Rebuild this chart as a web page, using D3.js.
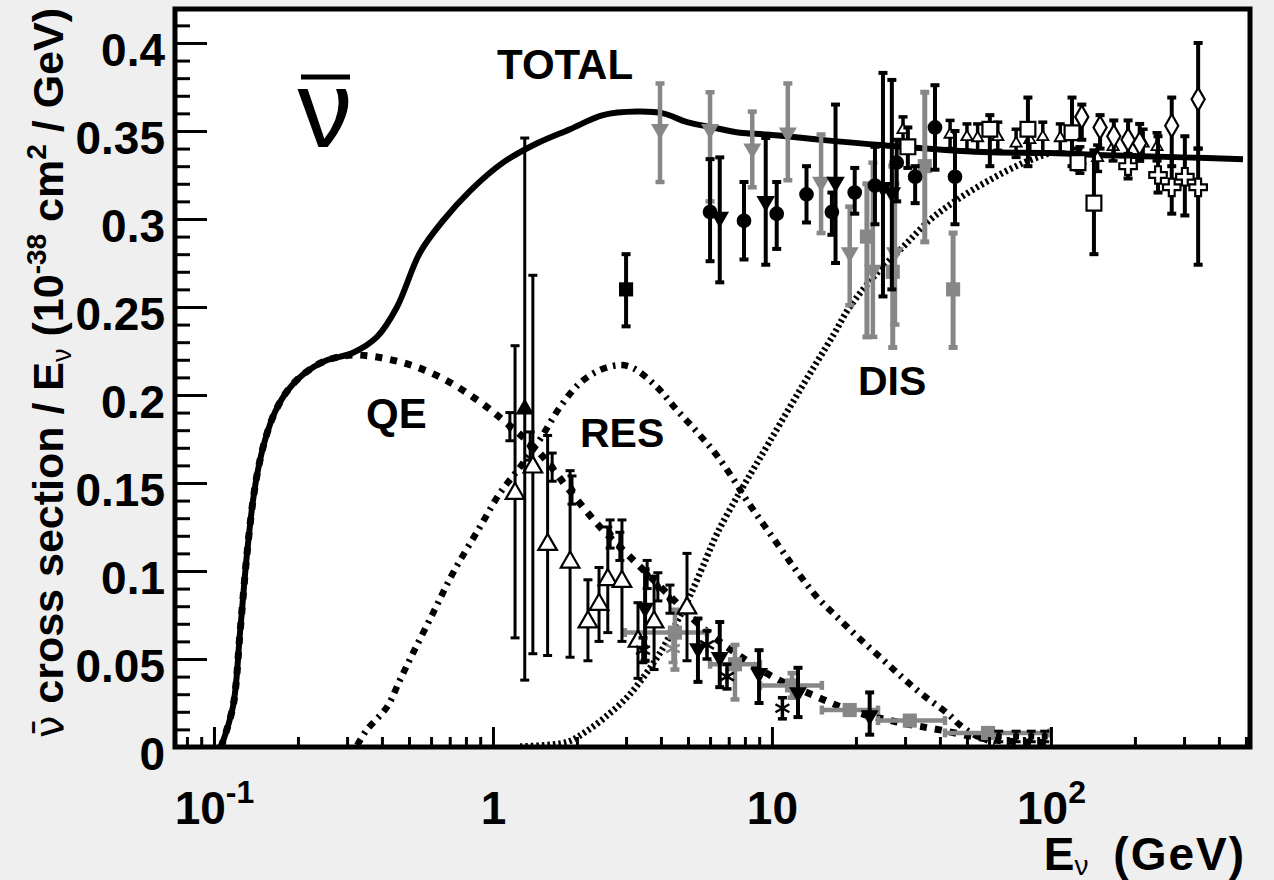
<!DOCTYPE html>
<html>
<head>
<meta charset="utf-8">
<script src="https://cdn.jsdelivr.net/npm/d3@7"></script>
<style>
  body { margin: 0; background: #efefef; }
  svg { display: block; }
</style>
</head>
<body>
<div class="canvas"></div>
<script>
// ---- curves: [E (GeV), sigma/E] ----
const totalCurve = [[0.106,0],[0.117,0.023],[0.124,0.065],[0.131,0.108],[0.138,0.140],[0.1438,0.1574],[0.1524,0.1744],[0.1655,0.1903],[0.1841,0.2028],[0.2119,0.2125],[0.250,0.2193],[0.315,0.224],[0.384,0.233],[0.453,0.250],[0.548,0.281],[0.662,0.299],[0.828,0.316],[1.086,0.332],[1.44,0.343],[1.89,0.351],[2.48,0.359],[3.28,0.361],[4.07,0.360],[4.96,0.355],[6.15,0.352],[7.68,0.349],[9.6,0.348],[14.9,0.345],[24.4,0.342],[57,0.338],[99,0.3375],[173,0.336],[297,0.335],[488,0.334]];
const qeCurve = [[0.106,0],[0.117,0.023],[0.124,0.065],[0.131,0.108],[0.138,0.140],[0.1438,0.1574],[0.1524,0.1744],[0.1655,0.1903],[0.1841,0.2028],[0.2119,0.2125],[0.250,0.2193],[0.315,0.2227],[0.464,0.2188],[0.646,0.2102],[0.877,0.1972],[1.12,0.184],[1.47,0.167],[1.84,0.1477],[2.42,0.125],[3.18,0.1063],[4.20,0.0875],[5.66,0.0676],[6.90,0.0568],[10.1,0.0398],[14.0,0.0295],[19.0,0.021],[28.1,0.0142],[40,0.0097],[62,0.004],[97,0.0025]];
const resCurve = [[0.326,0.001],[0.353,0.0097],[0.417,0.0227],[0.464,0.038],[0.517,0.0534],[0.610,0.0761],[0.719,0.0989],[0.898,0.125],[1.06,0.1443],[1.25,0.159],[1.47,0.1744],[1.74,0.1932],[2.05,0.2068],[2.42,0.2142],[2.85,0.217],[3.18,0.2153],[3.87,0.2045],[4.56,0.1915],[5.39,0.179],[6.25,0.167],[7.19,0.1534],[8.20,0.1392],[10.7,0.1131],[12.4,0.0989],[14.5,0.0852],[17.1,0.0739],[20.3,0.0625],[24.4,0.0511],[29.2,0.0398],[34.8,0.0295],[42.4,0.0193],[47.2,0.0125],[53.4,0.0068],[63,0.0023]];
const disCurve = [[1.25,0.0003],[1.84,0.0028],[2.17,0.0091],[2.63,0.0193],[3.10,0.0301],[3.57,0.0426],[4.07,0.0563],[4.56,0.0710],[5.08,0.0858],[5.66,0.1028],[6.40,0.1222],[7.68,0.1449],[9.06,0.1642],[12.6,0.2028],[16.6,0.2341],[19.0,0.250],[23.8,0.2693],[29.5,0.2841],[36.8,0.2994],[46.0,0.3108],[60.4,0.3222],[79.4,0.3318],[99,0.3375]];

// ---- measurements: [E, value, low, high] ----
const openTriUp = [[1.20,0.144,0.062,0.228],[1.39,0.159,0.053,0.268],[1.57,0.115,0.052,0.177],[1.89,0.105,0.051,0.157],[2.19,0.071,0.049,0.095],[2.40,0.081,0.060,0.102],[2.58,0.095,0.065,0.125],[2.90,0.094,0.060,0.129],[3.31,0.060,0.039,0.082],[3.78,0.071,0.044,0.097],[4.96,0.079,0.049,0.110]];
const filledTriUp = [[1.30,0.192,0.038,0.346]];
const blackCircles = [[6.0,0.304,0.276,0.334],[7.94,0.299,0.277,0.321],[10.4,0.303,0.283,0.321],[13.3,0.314,0.298,0.330],[16.4,0.304,0.291,0.315],[19.8,0.315,0.303,0.329],[23.4,0.319,0.297,0.341],[28.0,0.332,0.310,0.345],[32.6,0.324,0.309,0.330],[38.4,0.352,0.328,0.376],[45.3,0.324,0.297,0.350]];
const blackTriDown = [[6.5,0.301,0.264,0.335],[9.5,0.310,0.274,0.346],[16.9,0.321,0.275,0.365],[25.0,0.318,0.256,0.383],[26.9,0.315,0.260,0.379]];
const grayTriDown = [[3.97,0.351,0.321,0.377],[6.0,0.351,0.310,0.372],[8.5,0.340,0.318,0.361],[11.4,0.349,0.322,0.377],[15.0,0.321,0.292,0.348],[19.0,0.281,0.251,0.307],[23.0,0.271,0.233,0.332],[27.6,0.281,0.240,0.320]];
const graySquares = [[21.9,0.290,0.233,0.320],[27.1,0.270,0.227,0.330],[35.3,0.330,0.287,0.372],[44.6,0.260,0.227,0.292]];
const blackSquare = [[3.0,0.260,0.239,0.280]];
const openSquares = [[30.7,0.341,0.329,0.352],[60.4,0.351,0.330,0.359],[82.7,0.351,0.330,0.369],[119,0.349,0.330,0.369],[125,0.332,0.328,0.340],[142.6,0.309,0.280,0.339]];
const openDiamonds = [[129,0.358,0.345,0.365],[150,0.352,0.340,0.359],[168,0.347,0.336,0.356],[189,0.345,0.336,0.356],[208,0.343,0.333,0.354],[271,0.353,0.330,0.369],[337,0.368,0.340,0.400]];
const openCrosses = [[189,0.330,0.323,0.337],[242,0.325,0.315,0.347],[271,0.318,0.303,0.335],[302,0.324,0.302,0.347],[337,0.318,0.274,0.340]];
const smallTriHigh = [[29.5,0.3506,0.343,0.358],[43.5,0.348,0.340,0.356],[50,0.3466,0.339,0.354],[54.6,0.346,0.338,0.354],[64.5,0.3466,0.339,0.355],[75,0.343,0.335,0.351],[84,0.345,0.337,0.353],[93.5,0.3466,0.338,0.355],[108,0.346,0.338,0.354],[127,0.3335,0.326,0.341],[147,0.3347,0.327,0.342],[167,0.341,0.333,0.349],[214,0.343,0.335,0.351],[240,0.341,0.333,0.349]];
const blackTriDownLow = [[3.51,0.079,0.049,0.101],[5.43,0.056,0.037,0.073],[6.5,0.051,0.034,0.071],[8.99,0.042,0.025,0.055],[12.4,0.031,0.017,0.045],[22.4,0.018,0.007,0.031]];
const smallBlackQE = [[1.15,0.182,0.174,0.190],[1.36,0.171,0.163,0.179],[1.63,0.159,0.151,0.167],[1.92,0.146,0.138,0.154],[2.63,0.121,0.113,0.129],[2.85,0.114,0.106,0.122],[3.57,0.098,0.090,0.106],[3.90,0.091,0.083,0.099],[4.31,0.084,0.076,0.092]];
const smallBlackTail = [[65,0.006,0.003,0.009],[75,0.006,0.003,0.009],[85,0.006,0.003,0.009],[95,0.006,0.003,0.009]];
const blackStars = [[3.45,0.055,0.048,0.062],[5.85,0.058,0.050,0.066],[6.9,0.040,0.033,0.047],[10.9,0.022,0.016,0.028]];
const grayStars = [[4.42,0.056,0.048,0.064]];
// [E, value, low, high, Elow, Ehigh]
const grayBinned = [[4.49,0.065,0.044,0.078,2.97,5.85],[7.37,0.047,0.027,0.058,6.0,9.06],[11.8,0.035,0.028,0.042,9.06,15.1],[19.0,0.021,0.021,0.021,15.1,24.0],[31.2,0.015,0.015,0.015,24.0,41.7],[59.5,0.008,0.008,0.008,41.7,99]];

// ---- ticks ----
const yMajor = [0, 0.05, 0.1, 0.15, 0.2, 0.25, 0.3, 0.35, 0.4];
const yTickLabels = ["0", "0.05", "0.1", "0.15", "0.2", "0.25", "0.3", "0.35", "0.4"];
const yMinor = [0.01,0.02,0.03,0.04,0.06,0.07,0.08,0.09,0.11,0.12,0.13,0.14,0.16,0.17,0.18,0.19,0.21,0.22,0.23,0.24,0.26,0.27,0.28,0.29,0.31,0.32,0.33,0.34,0.36,0.37,0.38,0.39,0.41];
const xMajor = [0.1, 1, 10, 100];
const xTickLabels = [["10", "-1"], ["1", ""], ["10", ""], ["10", "2"]];
const xMinor = [0.08,0.09,0.2,0.3,0.4,0.5,0.6,0.7,0.8,0.9,2,3,4,5,6,7,8,9,20,30,40,50,60,70,80,90,200,300,400,500];

const FONT = "'Liberation Sans', Arial, Helvetica, sans-serif";
const GRAY = "#878787";

const svg = d3.select(".canvas").append("svg")
    .attr("width", 1274)
    .attr("height", 880)
    .attr("font-family", FONT);

const x = d3.scaleLog().domain([0.0725, 517]).range([175, 1250]);
const y = d3.scaleLinear().domain([0, 0.4193]).range([747, 9]);

svg.append("rect")
    .attr("x", 175).attr("y", 9)
    .attr("width", 1075).attr("height", 738)
    .attr("fill", "#fff");

svg.append("clipPath").attr("id", "plot")
  .append("rect")
    .attr("x", 175).attr("y", 9)
    .attr("width", 1075).attr("height", 738);

// curves
const line = d3.line()
    .x(d => x(d[0]))
    .y(d => y(d[1]))
    .curve(d3.curveCatmullRom.alpha(0.5));

const curves = svg.append("g").attr("clip-path", "url(#plot)").attr("fill", "none").attr("stroke", "#000");

curves.append("path").datum(disCurve).attr("d", line)
    .attr("stroke-width", 6.5).attr("stroke-dasharray", "2.5,3");
curves.append("path").datum(resCurve).attr("d", line)
    .attr("stroke-width", 6.5).attr("stroke-dasharray", "7,6,2.5,6");
curves.append("path").datum(qeCurve).attr("d", line)
    .attr("stroke-width", 7).attr("stroke-dasharray", "7,8");
curves.append("path").datum(totalCurve).attr("d", line)
    .attr("stroke-width", 6);

// measurements
const CAP = 4.5;

function drawSeries(data, s) {
    const g = svg.append("g");
    const bar = s.bar;
    const withBars = data.filter(d => d[2] !== d[3]);

    if (data[0].length > 4) {
        g.selectAll(null).data(data).join("line")
            .attr("x1", d => x(d[4])).attr("x2", d => x(d[5]))
            .attr("y1", d => y(d[1])).attr("y2", d => y(d[1]))
            .attr("stroke", bar).attr("stroke-width", s.barWidth);
        g.selectAll(null).data(data.flatMap(d => [[d[4], d[1]], [d[5], d[1]]])).join("line")
            .attr("x1", d => x(d[0])).attr("x2", d => x(d[0]))
            .attr("y1", d => y(d[1]) - CAP).attr("y2", d => y(d[1]) + CAP)
            .attr("stroke", bar).attr("stroke-width", s.barWidth);
    }

    g.selectAll(null).data(withBars).join("line")
        .attr("x1", d => x(d[0])).attr("x2", d => x(d[0]))
        .attr("y1", d => y(d[2])).attr("y2", d => y(d[3]))
        .attr("stroke", bar).attr("stroke-width", s.barWidth);

    g.selectAll(null).data(withBars.flatMap(d => [[d[0], d[2]], [d[0], d[3]]])).join("line")
        .attr("x1", d => x(d[0]) - CAP).attr("x2", d => x(d[0]) + CAP)
        .attr("y1", d => y(d[1])).attr("y2", d => y(d[1]))
        .attr("stroke", bar).attr("stroke-width", s.barWidth);

    g.selectAll(null).data(data).join("path")
        .attr("transform", d => `translate(${x(d[0])},${y(d[1])}) rotate(${s.rotate || 0})`)
        .attr("d", d3.symbol(s.symbol, s.size))
        .attr("fill", s.fill)
        .attr("stroke", s.stroke)
        .attr("stroke-width", s.strokeWidth || 0);
}

const star = d3.symbolAsterisk || d3.symbolTimes || d3.symbolCross;

const seriesStyles = [
    { data: grayBinned, symbol: d3.symbolSquare, size: 200, fill: GRAY, stroke: "none", bar: GRAY, barWidth: 4.5 },
    { data: grayStars, symbol: star, size: 170, fill: "none", stroke: GRAY, strokeWidth: 2.5, bar: GRAY, barWidth: 3.5 },
    { data: grayTriDown, symbol: d3.symbolTriangle, size: 140, rotate: 180, fill: GRAY, stroke: "none", bar: GRAY, barWidth: 4.5 },
    { data: graySquares, symbol: d3.symbolSquare, size: 200, fill: GRAY, stroke: "none", bar: GRAY, barWidth: 5 },
    { data: smallTriHigh, symbol: d3.symbolTriangle, size: 55, fill: "#fff", stroke: "#000", strokeWidth: 1.8, bar: "#000", barWidth: 3.5 },
    { data: smallBlackQE, symbol: d3.symbolDiamond, size: 50, fill: "#000", stroke: "none", bar: "#000", barWidth: 3 },
    { data: smallBlackTail, symbol: d3.symbolSquare, size: 35, fill: "#000", stroke: "none", bar: "#000", barWidth: 3 },
    { data: openTriUp, symbol: d3.symbolTriangle, size: 150, fill: "#fff", stroke: "#000", strokeWidth: 2.2, bar: "#000", barWidth: 3 },
    { data: filledTriUp, symbol: d3.symbolTriangle, size: 150, fill: "#000", stroke: "none", bar: "#000", barWidth: 3 },
    { data: blackTriDownLow, symbol: d3.symbolTriangle, size: 140, rotate: 180, fill: "#000", stroke: "none", bar: "#000", barWidth: 4 },
    { data: blackStars, symbol: star, size: 180, fill: "none", stroke: "#000", strokeWidth: 2.5, bar: "#000", barWidth: 3.5 },
    { data: blackSquare, symbol: d3.symbolSquare, size: 200, fill: "#000", stroke: "none", bar: "#000", barWidth: 4 },
    { data: blackTriDown, symbol: d3.symbolTriangle, size: 150, rotate: 180, fill: "#000", stroke: "none", bar: "#000", barWidth: 4 },
    { data: blackCircles, symbol: d3.symbolCircle, size: 170, fill: "#000", stroke: "none", bar: "#000", barWidth: 4 },
    { data: openSquares, symbol: d3.symbolSquare, size: 220, fill: "#fff", stroke: "#000", strokeWidth: 2.2, bar: "#000", barWidth: 4 },
    { data: openDiamonds, symbol: d3.symbolDiamond, size: 150, fill: "#fff", stroke: "#000", strokeWidth: 2.2, bar: "#000", barWidth: 4 },
    { data: openCrosses, symbol: d3.symbolCross, size: 170, fill: "#fff", stroke: "#000", strokeWidth: 2.2, bar: "#000", barWidth: 4 }
];

seriesStyles.forEach(s => drawSeries(s.data, s));

// axes
function tidy(g) {
    g.select(".domain").remove();
    g.attr("font-family", FONT).attr("font-size", 46).attr("font-weight", "bold");
    g.selectAll("line").attr("stroke-width", 3);
}

svg.append("g").attr("transform", "translate(175,0)")
    .call(d3.axisLeft(y).tickValues(yMinor).tickSize(-15).tickFormat(""))
    .call(tidy);

svg.append("g").attr("transform", "translate(175,0)")
    .call(d3.axisLeft(y).tickValues(yMajor).tickSize(-32).tickPadding(10).tickFormat((d, i) => yTickLabels[i]))
    .call(tidy)
    .call(g => g.selectAll("text").attr("dy", "0.48em"));

svg.append("g").attr("transform", "translate(0,747)")
    .call(d3.axisBottom(x).tickValues(xMinor).tickSize(-10).tickFormat(""))
    .call(tidy);

const gx = svg.append("g").attr("transform", "translate(0,747)")
    .call(d3.axisBottom(x).tickValues(xMajor).tickSize(-20).tickFormat(""))
    .call(tidy);

gx.selectAll(".tick").each(function (d, i) {
    const t = d3.select(this).append("text")
        .attr("y", 77).attr("fill", "#000").attr("text-anchor", "middle");
    t.append("tspan").text(xTickLabels[i][0]);
    if (xTickLabels[i][1]) {
        t.append("tspan").attr("dy", -21).attr("font-size", 32).text(xTickLabels[i][1]);
    }
});

// frame
svg.append("rect")
    .attr("x", 175).attr("y", 9)
    .attr("width", 1075).attr("height", 738)
    .attr("fill", "none").attr("stroke", "#000").attr("stroke-width", 5);

// labels
const labels = svg.append("g").attr("font-weight", "bold").attr("font-size", 42);
labels.append("text").attr("x", 497).attr("y", 79).text("TOTAL");
labels.append("text").attr("x", 366).attr("y", 428).text("QE");
labels.append("text").attr("x", 580).attr("y", 447).attr("font-size", 41).text("RES");
labels.append("text").attr("x", 858).attr("y", 395).attr("font-size", 41).text("DIS");

svg.append("text")
    .attr("x", 325).attr("y", 147)
    .attr("text-anchor", "middle")
    .attr("font-size", 110)
    .text("ν");
svg.append("line")
    .attr("x1", 301).attr("x2", 350).attr("y1", 77).attr("y2", 77)
    .attr("stroke", "#000").attr("stroke-width", 5);

// x title
const xt = svg.append("text")
    .attr("x", 1246).attr("y", 870)
    .attr("text-anchor", "end")
    .attr("font-weight", "bold").attr("font-size", 46);
xt.append("tspan").text("E");
xt.append("tspan").attr("font-size", 28).attr("font-weight", "normal").attr("dy", 5).text("ν");
xt.append("tspan").attr("dy", -5).attr("dx", 10).attr("letter-spacing", 2).text(" (GeV)");

// y title
const yt = svg.append("text")
    .attr("transform", "translate(63,8) rotate(-90)")
    .attr("text-anchor", "end")
    .attr("font-weight", "bold").attr("font-size", 43);
yt.append("tspan").attr("font-weight", "normal").attr("font-family", "'DejaVu Sans', sans-serif").attr("font-size", 40).text("ν\u0304");
yt.append("tspan").text(" cross section / E");
yt.append("tspan").attr("font-size", 27).attr("font-weight", "normal").attr("dy", 8).text("ν");
yt.append("tspan").attr("dy", -8).text(" (10");
yt.append("tspan").attr("font-size", 28).attr("dy", -17).text("-38");
yt.append("tspan").attr("dy", 17).text(" cm");
yt.append("tspan").attr("font-size", 28).attr("dy", -17).text("2");
yt.append("tspan").attr("dy", 17).text(" / GeV)");
</script>
</body>
</html>
